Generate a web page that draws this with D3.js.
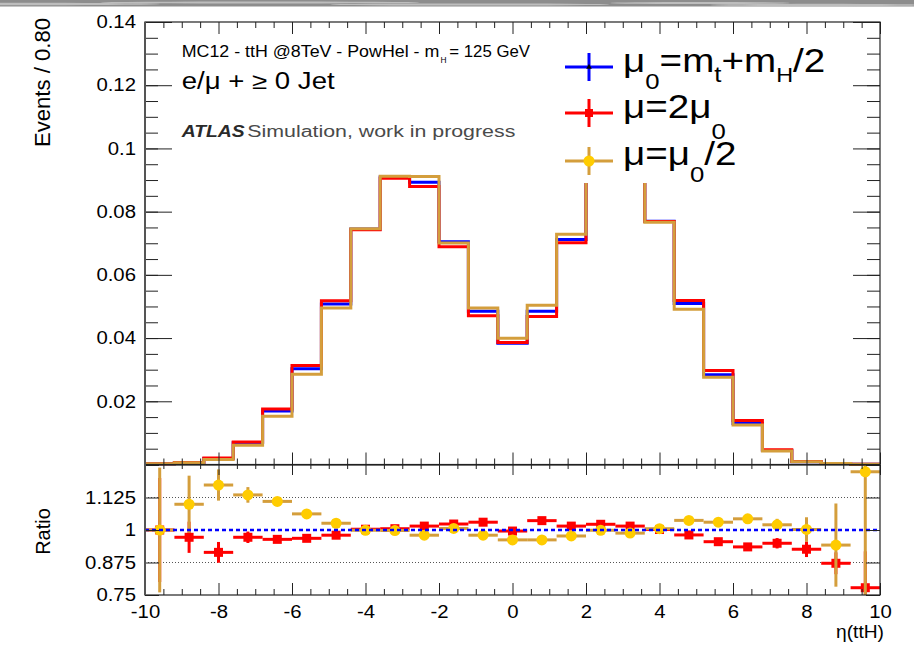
<!DOCTYPE html>
<html>
<head>
<meta charset="utf-8">
<script src="https://cdn.jsdelivr.net/npm/d3@7"></script>
<style>
  html, body { margin: 0; padding: 0; background: #fff; }
  svg { display: block; font-family: "Liberation Sans", Arial, Helvetica, sans-serif; }
</style>
</head>
<body>
<svg id="chart" width="914" height="648"></svg>
<script>
// ---- data: eta(ttH) distribution, bin width 0.8 ----
const etaCenters = [-9.6, -8.8, -8.0, -7.2, -6.4, -5.6, -4.8, -4.0, -3.2, -2.4, -1.6, -0.8,
                    0.0, 0.8, 1.6, 2.4, 3.2, 4.0, 4.8, 5.6, 6.4, 7.2, 8.0, 8.8, 9.6];
const binHalfWidth = 0.4;

// mu0 = mt + mH/2 (nominal)
const nominal = [0.0002, 0.0006, 0.0019, 0.0069, 0.0169, 0.0303, 0.0508, 0.0745, 0.0910, 0.0893,
                 0.0705, 0.0485, 0.0384, 0.0485, 0.0712, 0.0918, 0.0925, 0.0770, 0.0509, 0.0284,
                 0.0130, 0.0044, 0.0009, 0.0003, 0.00005];
// mu = 2 mu0
const scaleUp = [0.0002, 0.00062, 0.00208, 0.0071, 0.01753, 0.0313, 0.05184, 0.07428, 0.09055, 0.08798,
                 0.06892, 0.04709, 0.03856, 0.04681, 0.07015, 0.08982, 0.09113, 0.07685, 0.05189, 0.02974,
                 0.0139, 0.00464, 0.00097, 0.00034, 0.000064];
// mu = mu0 / 2
const scaleDown = [0.0002, 0.00055, 0.00162, 0.00608, 0.01523, 0.02853, 0.04951, 0.07457, 0.09118, 0.09112,
                   0.07008, 0.04949, 0.03992, 0.05042, 0.07288, 0.09189, 0.09362, 0.07662, 0.04908, 0.02757,
                   0.01246, 0.00431, 0.0009, 0.00032, 0.00004];

// ratio nominal / variation
const ratioUp = [1.000, 0.972, 0.914, 0.972, 0.964, 0.968, 0.980, 1.003, 1.005, 1.015,
                 1.023, 1.030, 0.996, 1.036, 1.015, 1.022, 1.015, 1.002, 0.981, 0.955,
                 0.935, 0.949, 0.926, 0.872, 0.778];
const ratioUpErr = [0.20, 0.06, 0.04, 0.022, 0.012, 0.008, 0.006, 0.005, 0.005, 0.005,
                    0.005, 0.005, 0.005, 0.005, 0.005, 0.005, 0.005, 0.005, 0.006, 0.008,
                    0.010, 0.020, 0.030, 0.042, 0.14];
const ratioDown = [1.000, 1.099, 1.173, 1.135, 1.110, 1.062, 1.026, 0.999, 0.998, 0.980,
                   1.006, 0.980, 0.962, 0.962, 0.977, 0.999, 0.988, 1.005, 1.037, 1.030,
                   1.043, 1.020, 1.002, 0.942, 1.224];
const ratioDownErr = [0.24, 0.11, 0.06, 0.03, 0.012, 0.008, 0.006, 0.005, 0.005, 0.005,
                      0.005, 0.005, 0.005, 0.005, 0.005, 0.005, 0.005, 0.005, 0.006, 0.007,
                      0.010, 0.023, 0.047, 0.16, 0.50];

const xMajorTicks = [-10, -8, -6, -4, -2, 0, 2, 4, 6, 8, 10];
const yTopTickLabels = [0.02, 0.04, 0.06, 0.08, 0.1, 0.12, 0.14];
const yRatioTickLabels = [0.75, 0.875, 1, 1.125];
const yRatioTicks = [0.75, 0.875, 1, 1.125, 1.25];

// ---- layout ----
const xL = 145, xR = 880;
const yTopT = 22, yTopB = 464.5;
const yRatT = 465, yRatB = 595;

const COL_BLUE = "#0000ff", COL_RED = "#ff0000", COL_GOLD = "#d49e3c", COL_YEL = "#ffcc00";
const FRAME = "#222";
const TXT_SX = 1.13;

const svg = d3.select("#chart");

const x = d3.scaleLinear().domain([-10, 10]).range([xL, xR]);
const yTop = d3.scaleLinear().domain([0, 0.14]).range([yTopB, yTopT]);
const yRat = d3.scaleLinear().domain([0.75, 1.25]).range([yRatB, yRatT]);

// grey strip along the top edge
const strip = svg.append("g");
strip.append("rect").attr("x", 0).attr("y", 0).attr("width", 914).attr("height", 6.5).attr("fill", "#8d8d8d");
[[40, 4, 120, 1.2], [260, 2.5, 160, 1.0], [470, 4.5, 140, 1.1], [700, 3, 90, 1.0], [820, 5, 110, 1.2]]
  .forEach(([cx, cy, rx, ry]) => strip.append("ellipse").attr("cx", cx).attr("cy", cy)
    .attr("rx", rx).attr("ry", ry).attr("fill", "#c9c9c9").attr("opacity", 0.8));

// ---- top panel: step histograms ----
function stepPoints(vals) {
  const pts = [];
  vals.forEach((v, i) => {
    pts.push([etaCenters[i] - binHalfWidth, v]);
    pts.push([etaCenters[i] + binHalfWidth, v]);
  });
  return pts;
}
const stepLine = d3.line().x(d => x(d[0])).y(d => yTop(d[1]));

const hist = svg.append("g");
[[nominal, COL_BLUE], [scaleUp, COL_RED], [scaleDown, COL_GOLD]].forEach(([vals, col]) => {
  hist.append("path")
    .attr("d", stepLine(stepPoints(vals)))
    .attr("fill", "none")
    .attr("stroke", col)
    .attr("stroke-width", 3)
    .attr("stroke-linejoin", "miter");
});

// ---- legend (white box over the histogram) ----
const leg = svg.append("g");
leg.append("rect").attr("x", 555).attr("y", 36).attr("width", 290).attr("height", 147).attr("fill", "#fff");
const legRows = [
  { y: 67, col: COL_BLUE, marker: "tri" },
  { y: 113, col: COL_RED, marker: "sq" },
  { y: 161, col: COL_GOLD, marker: "circ" }
];
legRows.forEach(r => {
  leg.append("line").attr("x1", 565).attr("x2", 613).attr("y1", r.y).attr("y2", r.y)
    .attr("stroke", r.col).attr("stroke-width", 3);
  leg.append("line").attr("x1", 589).attr("x2", 589).attr("y1", r.y - 14).attr("y2", r.y + 14)
    .attr("stroke", r.col).attr("stroke-width", 3);
  if (r.marker === "tri") {
    leg.append("path").attr("d", d3.symbol(d3.symbolTriangle, 14)()).attr("transform", `translate(589,${r.y})`).attr("fill", "#000");
  } else if (r.marker === "sq") {
    leg.append("rect").attr("x", 585).attr("y", r.y - 4).attr("width", 8).attr("height", 8).attr("fill", COL_RED);
  } else {
    leg.append("circle").attr("cx", 589).attr("cy", r.y).attr("r", 5.5).attr("fill", COL_YEL);
  }
});

function legendText(y, parts) {
  const t = leg.append("text").attr("transform", `translate(623,${y}) scale(1.17,1)`)
    .attr("font-size", 33).attr("fill", "#000");
  let cur = 0;
  parts.forEach(([s, sub, size]) => {
    const dy = sub - cur;
    cur = sub;
    t.append("tspan").attr("dy", dy).attr("font-size", size).text(s);
  });
}
legendText(72, [["\u03bc", 0, 33], ["0", 17, 22], ["=m", 0, 33], ["t", 10, 22], ["+m", 0, 33], ["H", 10, 20], ["/2", 0, 33]]);
legendText(118, [["\u03bc=2\u03bc", 0, 33], ["0", 21, 22]]);
legendText(165, [["\u03bc=\u03bc", 0, 33], ["0", 17, 22], ["/2", 0, 33]]);

// ---- axes helpers ----
function styleAxis(g) {
  g.attr("font-family", null).attr("font-size", null);
  g.select(".domain").remove();
  g.selectAll(".tick line").attr("stroke", FRAME).attr("stroke-width", 1);
}
const xMinorTicks = d3.range(-10, 10.001, 0.5).filter(v => Math.abs(v % 2) > 1e-6);
const yTopMinor = d3.range(0, 0.1401, 0.005);

// top panel ticks
[[d3.axisTop, yTopB, xMajorTicks, 12], [d3.axisTop, yTopB, xMinorTicks, 6],
 [d3.axisBottom, yTopT, xMajorTicks, 12], [d3.axisBottom, yTopT, xMinorTicks, 6]]
  .forEach(([fn, yy, vals, len]) => {
    svg.append("g").attr("transform", `translate(0,${yy})`)
      .call(fn(x).tickValues(vals).tickSize(len).tickFormat(""))
      .call(styleAxis);
  });
[[d3.axisRight, xL, yTopTickLabels, 27], [d3.axisRight, xL, yTopMinor, 13],
 [d3.axisLeft, xR, yTopTickLabels, 27], [d3.axisLeft, xR, yTopMinor, 13]]
  .forEach(([fn, xx, vals, len]) => {
    svg.append("g").attr("transform", `translate(${xx},0)`)
      .call(fn(yTop).tickValues(vals).tickSize(len).tickFormat(""))
      .call(styleAxis);
  });
// top panel labels
svg.append("g").attr("transform", `translate(${xL},0)`)
  .call(d3.axisLeft(yTop).tickValues(yTopTickLabels).tickSize(0).tickPadding(8).tickFormat(d3.format("~g")))
  .call(styleAxis)
  .call(g => g.selectAll("text").attr("font-size", 18).attr("fill", "#000").attr("transform", `scale(${TXT_SX},1)`));

// ---- ratio panel ----
const rat = svg.append("g");
rat.append("clipPath").attr("id", "ratclip").append("rect")
  .attr("x", xL).attr("y", yRatT).attr("width", xR - xL).attr("height", yRatB - yRatT);

[1.125, 0.875].forEach(v => {
  rat.append("line").attr("x1", xL).attr("x2", xR).attr("y1", yRat(v)).attr("y2", yRat(v))
    .attr("stroke", "#555").attr("stroke-width", 1).attr("stroke-dasharray", "1,2");
});

const pts = rat.append("g").attr("clip-path", "url(#ratclip)");
function drawRatio(vals, errs, lineCol, markerFn) {
  const g = pts.append("g");
  vals.forEach((r, i) => {
    const c = etaCenters[i];
    g.append("line").attr("x1", x(c - binHalfWidth)).attr("x2", x(c + binHalfWidth))
      .attr("y1", yRat(r)).attr("y2", yRat(r)).attr("stroke", lineCol).attr("stroke-width", 3);
    g.append("line").attr("x1", x(c)).attr("x2", x(c))
      .attr("y1", yRat(r - errs[i])).attr("y2", yRat(r + errs[i])).attr("stroke", lineCol).attr("stroke-width", 3);
  });
  vals.forEach((r, i) => markerFn(g, x(etaCenters[i]), yRat(r)));
}
drawRatio(ratioUp, ratioUpErr, COL_RED, (g, cx, cy) =>
  g.append("rect").attr("x", cx - 4.5).attr("y", cy - 4.5).attr("width", 9).attr("height", 9).attr("fill", COL_RED));
drawRatio(ratioDown, ratioDownErr, COL_GOLD, (g, cx, cy) =>
  g.append("circle").attr("cx", cx).attr("cy", cy).attr("r", 5.5).attr("fill", COL_YEL));

rat.append("line").attr("x1", xL).attr("x2", xR).attr("y1", yRat(1)).attr("y2", yRat(1))
  .attr("stroke", COL_BLUE).attr("stroke-width", 2.5).attr("stroke-dasharray", "4,3");

// ratio ticks
[[d3.axisTop, yRatB, xMajorTicks, 12], [d3.axisTop, yRatB, xMinorTicks, 6],
 [d3.axisBottom, yRatT, xMajorTicks, 10], [d3.axisBottom, yRatT, xMinorTicks, 4]]
  .forEach(([fn, yy, vals, len]) => {
    svg.append("g").attr("transform", `translate(0,${yy})`)
      .call(fn(x).tickValues(vals).tickSize(len).tickFormat(""))
      .call(styleAxis);
  });
[[d3.axisRight, xL], [d3.axisLeft, xR]].forEach(([fn, xx]) => {
  svg.append("g").attr("transform", `translate(${xx},0)`)
    .call(fn(yRat).tickValues(yRatioTicks).tickSize(14).tickFormat(""))
    .call(styleAxis);
});
svg.append("g").attr("transform", `translate(${xL},0)`)
  .call(d3.axisLeft(yRat).tickValues(yRatioTickLabels).tickSize(0).tickPadding(8).tickFormat(d3.format("~g")))
  .call(styleAxis)
  .call(g => g.selectAll("text").attr("font-size", 18).attr("fill", "#000").attr("transform", `scale(${TXT_SX},1)`));
svg.append("g").attr("transform", `translate(0,${yRatB})`)
  .call(d3.axisBottom(x).tickValues(xMajorTicks).tickSize(0).tickPadding(10).tickFormat(d => String(d)))
  .call(styleAxis)
  .call(g => g.selectAll("text").attr("font-size", 18).attr("fill", "#000").attr("transform", `scale(${TXT_SX},1)`));

// frames
const frames = svg.append("g").attr("fill", "none").attr("stroke", FRAME);
frames.append("rect").attr("x", xL).attr("y", yTopT).attr("width", xR - xL).attr("height", yTopB - yTopT).attr("stroke-width", 1.2);
frames.append("rect").attr("x", xL).attr("y", yRatT).attr("width", xR - xL).attr("height", yRatB - yRatT).attr("stroke-width", 1.2);
frames.append("line").attr("x1", xL).attr("x2", xL).attr("y1", yTopT).attr("y2", yRatB).attr("stroke", "#555").attr("stroke-width", 2);

// ---- texts ----
function label(xx, yy, str, size, len, attrs = {}) {
  const t = svg.append("text").attr("x", xx).attr("y", yy).attr("font-size", size).attr("fill", "#000")
    .attr("textLength", len).attr("lengthAdjust", "spacingAndGlyphs").text(str);
  Object.entries(attrs).forEach(([k, v]) => t.attr(k, v));
  return t;
}
label(181.7, 56.7, "MC12 - ttH @8TeV - PowHel - m", 16, 257.6);
label(440.5, 63, "H", 8.5, 6);
label(449.3, 56.7, "= 125 GeV", 16, 80.7);
label(181.7, 89, "e/\u03bc + \u2265 0 Jet", 23, 153);
label(181.7, 137.3, "ATLAS", 16, 63, { "font-weight": "bold", "font-style": "italic", "fill": "#2a2a2a" });
label(247.3, 137.3, "Simulation, work in progress", 16, 268, { "fill": "#4a4a4a" });

// axis titles
svg.append("text").attr("transform", "translate(50,18) rotate(-90)").attr("text-anchor", "end")
  .attr("font-size", 22).attr("textLength", 129).attr("lengthAdjust", "spacingAndGlyphs").text("Events / 0.80");
svg.append("text").attr("transform", "translate(50,531.5) rotate(-90)").attr("text-anchor", "middle")
  .attr("font-size", 20).text("Ratio");
svg.append("text").attr("x", 884).attr("y", 638).attr("text-anchor", "end")
  .attr("font-size", 18).attr("textLength", 48).attr("lengthAdjust", "spacingAndGlyphs").text("\u03b7(ttH)");
</script>
</body>
</html>
